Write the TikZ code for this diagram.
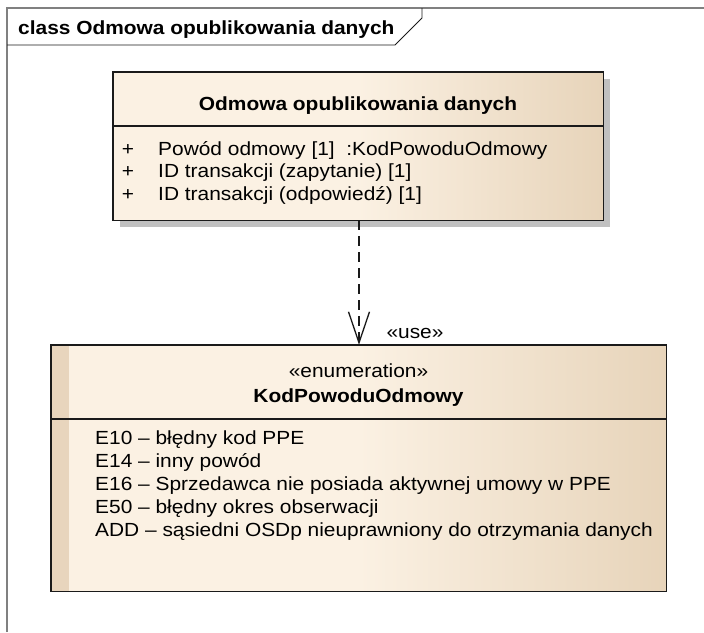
\documentclass[tikz,border=0pt]{standalone}
\usepackage{fontspec}
\setmainfont[FakeStretch=1.1]{Liberation Sans}
\usetikzlibrary{arrows.meta}
\definecolor{cream}{HTML}{FBF1E3}
\definecolor{tanc}{HTML}{E7D4BA}
\definecolor{stripec}{HTML}{E8D5BD}
\definecolor{framegray}{HTML}{808080}
\definecolor{shadowgray}{HTML}{C0C0C0}
\definecolor{edge}{HTML}{1A1A1A}
\begin{document}
\begin{tikzpicture}[x=1pt,y=-1pt,
  font=\fontsize{19}{23}\selectfont,
  classbox/.style={draw=none, inner sep=0pt, left color=cream, right color=tanc, middle color=cream},
  lbl/.style={inner sep=0pt, anchor=base west},
  ctr/.style={inner sep=0pt, anchor=base},
  border/.style={draw=edge, line width=1.4pt}]
\useasboundingbox (0,0) rectangle (704,632);
\fill[white] (0,0) rectangle (704,632);
% frame
\draw[framegray, line width=1.6pt] (7,632) -- (7,8) -- (704,8);
\draw[edge, line width=0.9pt] (7,45) -- (395,45) -- (422,18) -- (422,8);
\node[lbl, font=\fontsize{19}{23}\selectfont\bfseries] (ftitle) at (18,34) {class Odmowa opublikowania danych};
% class 1
\fill[shadowgray] (120,79) rectangle (610,227);
\node[classbox, minimum width=490pt, minimum height=148pt] (c1) at (358,146) {};
\draw[border] (c1.north west) rectangle (c1.south east);
\draw[border] (c1.west |- 0,126) -- (c1.east |- 0,126);
\node[ctr, font=\fontsize{19}{23}\selectfont\bfseries] (c1t) at (358,110) {Odmowa opublikowania danych};
\node[ctr] (p1) at (128,155) {+};
\node[ctr] (p2) at (128,177.5) {+};
\node[ctr] (p3) at (128,200) {+};
\node[lbl] (a1) at (158,155) {Powód odmowy [1]\ \ :KodPowoduOdmowy};
\node[lbl] (a2) at (158,177.5) {ID transakcji (zapytanie) [1]};
\node[lbl] (a3) at (158,200) {ID transakcji (odpowiedź) [1]};
% enumeration
\node[classbox, minimum width=615pt, minimum height=246pt] (c2) at (358.5,468) {};
\fill[stripec] (c2.north west) rectangle ([xshift=18pt]c2.south west);
\draw[border] (c2.north west) rectangle (c2.south east);
\draw[border] (c2.west |- 0,419) -- (c2.east |- 0,419);
\node[ctr] (st) at (358.5,377) {«enumeration»};
\node[ctr, font=\fontsize{19}{23}\selectfont\bfseries] (c2t) at (358.5,402) {KodPowoduOdmowy};
\node[lbl] (e1) at (95,444) {E10 – błędny kod PPE};
\node[lbl] (e2) at (95,467) {E14 – inny powód};
\node[lbl] (e3) at (95,490) {E16 – Sprzedawca nie posiada aktywnej umowy w PPE};
\node[lbl] (e4) at (95,513) {E50 – błędny okres obserwacji};
\node[lbl] (e5) at (95,536) {ADD – sąsiedni OSDp nieuprawniony do otrzymania danych};
% dependency
\draw[edge, line width=1.3pt, dash pattern=on 10pt off 6pt, -{Straight Barb[length=31pt,width=21pt,line width=1.3pt]}] ([xshift=1pt]c1.south) -- ([xshift=1pt]c1.south |- c2.north);
\node[ctr] (use) at (415,338) {«use»};
\end{tikzpicture}
\end{document}
